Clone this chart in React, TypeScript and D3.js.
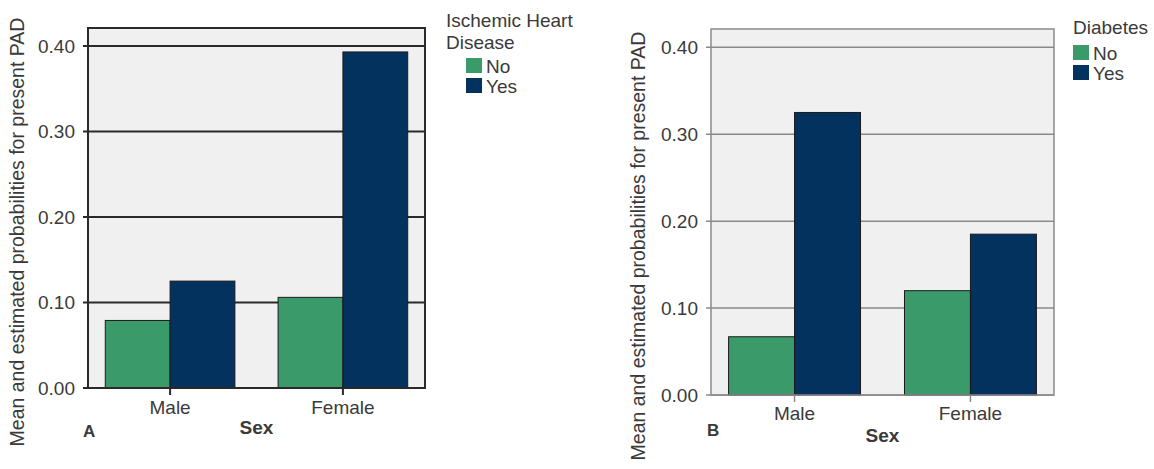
import * as d3 from 'd3';

const categories = ['Male', 'Female'];
const groups = ['No', 'Yes'];
const yTicks = [0, 0.1, 0.2, 0.3, 0.4];

// Panel A: Ischemic Heart Disease
const ihdNo = [0.079, 0.106];
const ihdYes = [0.125, 0.393];

// Panel B: Diabetes
const diabNo = [0.067, 0.12];
const diabYes = [0.325, 0.185];

const GREEN = '#3a9a6a';
const NAVY = '#03325f';
const FONT = '"Liberation Sans", Arial, sans-serif';
const TXT = '#3a3a3a';

type PanelProps = {
  left: number; right: number; top: number; bottom: number;
  no: number[]; yes: number[];
  gridColor: string; gridWidth: number;
  letter: string; letterX: number; letterY: number;
  sexY: number; catY: number;
  yLabelX: number; yLabelY: number;
  legendTitle: string[]; legendX: number; legendY: number;
  swatchY: number;
};

function Panel(p: PanelProps) {
  const y = d3.scaleLinear().domain([0, 0.4]).range([p.bottom, p.bottom - (p.bottom - p.top) * (0.4 / 0.421)]);
  const x = d3.scaleBand<string>().domain(categories).range([p.left, p.right]).paddingInner(0.25).paddingOuter(0.1);
  const sub = d3.scaleBand<string>().domain(groups).range([0, x.bandwidth()]);
  const fmt = d3.format('.2f');
  const values = [p.no, p.yes];
  const colors = [GREEN, NAVY];

  return (
    <g>
      <rect x={p.left} y={p.top} width={p.right - p.left} height={p.bottom - p.top} fill="#f0f0f0" />
      {yTicks.map(t => (
        <g key={t}>
          <line x1={p.left - 5} x2={p.right} y1={y(t)} y2={y(t)} stroke={p.gridColor} strokeWidth={p.gridWidth} />
          <text x={p.left - 13} y={y(t)} dy="0.35em" textAnchor="end" fontSize={19} fill={TXT}>{fmt(t)}</text>
        </g>
      ))}
      {categories.map((c, i) => (
        <g key={c}>
          {groups.map((g, j) => {
            const v = values[j][i];
            return (
              <rect key={g} x={(x(c) as number) + (sub(g) as number)} y={y(v)} width={sub.bandwidth()}
                height={y(0) - y(v)} fill={colors[j]} stroke="#1a1a1a" strokeWidth={1} />
            );
          })}
          <line x1={(x(c) as number) + x.bandwidth() / 2} x2={(x(c) as number) + x.bandwidth() / 2}
            y1={p.bottom} y2={p.bottom + 7} stroke={p.gridColor} strokeWidth={p.gridWidth} />
          <text x={(x(c) as number) + x.bandwidth() / 2} y={p.catY} textAnchor="middle" fontSize={19} fill={TXT}>{c}</text>
        </g>
      ))}
      <rect x={p.left} y={p.top} width={p.right - p.left} height={p.bottom - p.top} fill="none" stroke={p.gridColor} strokeWidth={p.gridWidth} />
      <text x={(p.left + p.right) / 2} y={p.sexY} textAnchor="middle" fontSize={19} fontWeight="bold" fill={TXT}>Sex</text>
      <text x={p.letterX} y={p.letterY} fontSize={17} fontWeight="bold" fill={TXT}>{p.letter}</text>
      <text transform={`translate(${p.yLabelX},${p.yLabelY}) rotate(-90)`} textAnchor="middle" fontSize={19.5} fill={TXT}>
        Mean and estimated probabilities for present PAD
      </text>
      {p.legendTitle.map((t, i) => (
        <text key={t} x={p.legendX} y={p.legendY + i * 22} fontSize={19} fill={TXT}>{t}</text>
      ))}
      {groups.map((g, j) => (
        <g key={g}>
          <rect x={p.legendX + (p.legendTitle.length > 1 ? 20 : 0)} y={p.swatchY + j * 20} width={16} height={15} fill={colors[j]} />
          <text x={p.legendX + (p.legendTitle.length > 1 ? 40 : 20)} y={p.swatchY + j * 20 + 8} dy="0.35em" fontSize={19} fill={TXT}>{g}</text>
        </g>
      ))}
    </g>
  );
}

export default function App() {
  return (
    <svg width={1154} height={469} style={{ position: 'absolute', left: 0, top: 0, background: '#fff' }} fontFamily={FONT}>
      <Panel left={88} right={425} top={28} bottom={388} no={ihdNo} yes={ihdYes}
        gridColor="#2a2a2a" gridWidth={2} letter="A" letterX={83} letterY={437}
        sexY={434} catY={414} yLabelX={24} yLabelY={232}
        legendTitle={['Ischemic Heart', 'Disease']} legendX={446} legendY={27} swatchY={58} />
      <Panel left={711} right={1054} top={29} bottom={395} no={diabNo} yes={diabYes}
        gridColor="#8a8a8a" gridWidth={1.5} letter="B" letterX={707} letterY={436}
        sexY={442} catY={420} yLabelX={645} yLabelY={246}
        legendTitle={['Diabetes']} legendX={1073} legendY={34} swatchY={45} />
    </svg>
  );
}
